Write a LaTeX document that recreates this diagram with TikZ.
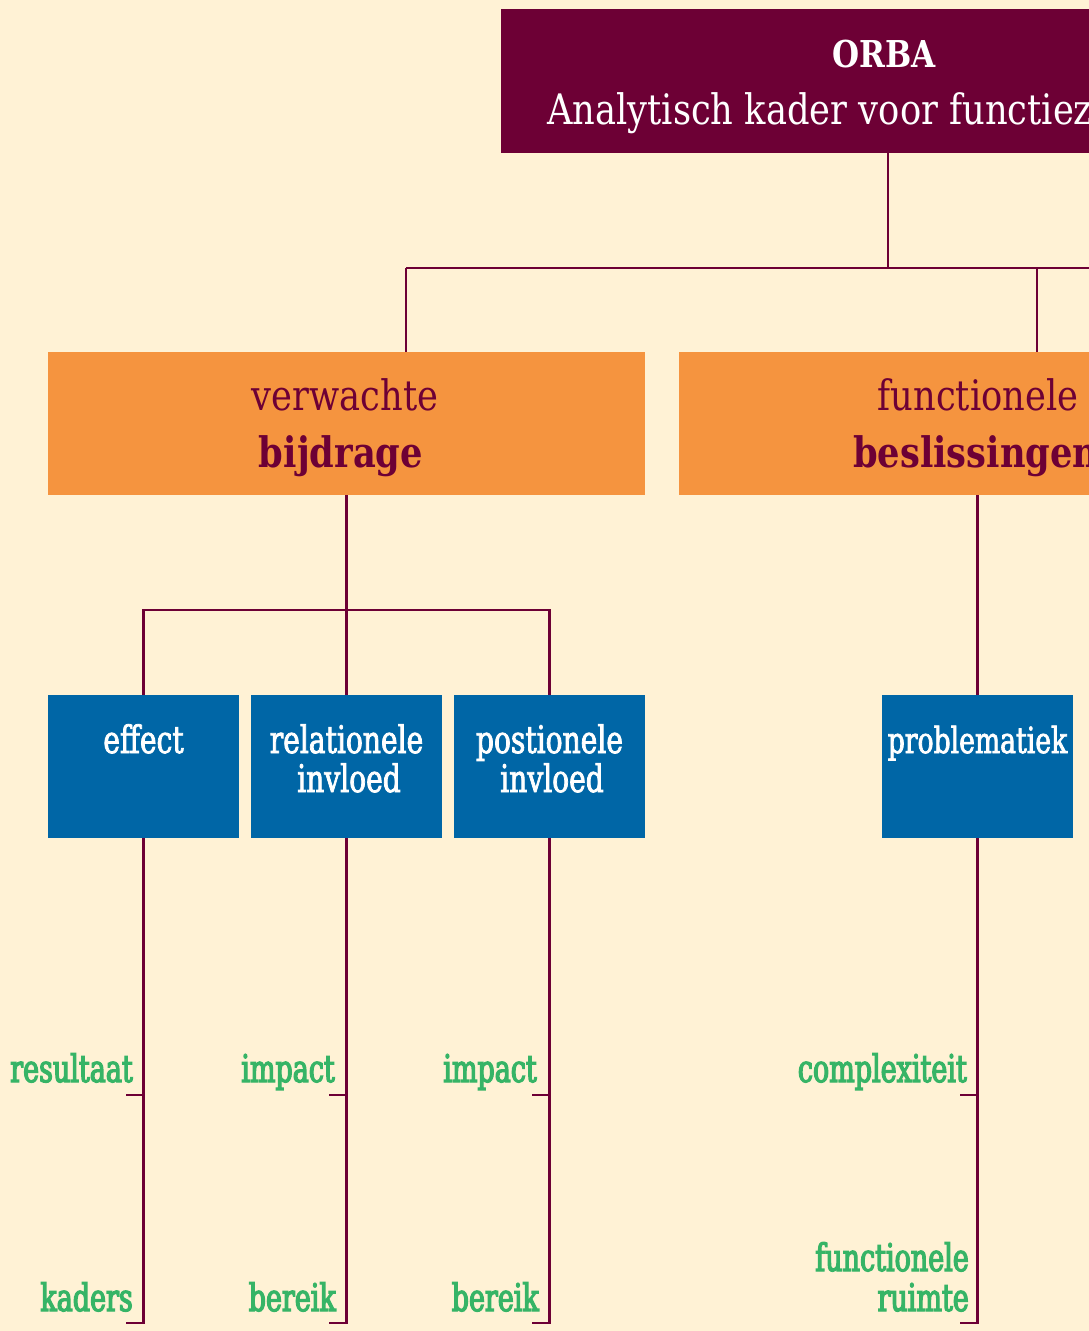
\documentclass[tikz,border=0pt]{standalone}
\usepackage{fontspec}
\setmainfont{DejaVu Serif}
\newfontfamily\hdfont[FakeStretch=0.84]{DejaVu Serif}
\newfontfamily\bxfont[FakeStretch=0.74,FakeBold=2]{DejaVu Serif}
\newfontfamily\lbfont[FakeStretch=0.71,FakeBold=3.2]{DejaVu Serif}

\definecolor{paper}{HTML}{FFF2D5}
\definecolor{maroon}{HTML}{6D0035}
\definecolor{orangebox}{HTML}{F5943F}
\definecolor{bluebox}{HTML}{0066A6}
\definecolor{leaf}{HTML}{36B466}

\tikzset{
  panel/.style={rectangle, inner sep=0pt, outer sep=0pt, minimum width=#1, minimum height=143pt},
  titlebox/.style={panel=766pt, fill=maroon, minimum height=144pt},
  groupbox/.style={panel=597pt, fill=orangebox},
  itembox/.style={panel=191pt, fill=bluebox},
  link/.style={draw=maroon, line width=2.2pt},
  titletext/.style={text=white, inner sep=0pt, font=\hdfont\fontsize{42}{42}\selectfont},
  grouptext/.style={text=maroon, inner sep=0pt, font=\hdfont\fontsize{42}{42}\selectfont},
  itemtext/.style={text=white, inner sep=0pt, font=\bxfont\fontsize{38}{38}\selectfont},
  leaftext/.style={text=leaf, inner sep=0pt, anchor=base east, font=\lbfont\fontsize{38}{38}\selectfont},
}

\begin{document}
\begin{tikzpicture}[x=1pt, y=-1pt]
\useasboundingbox (0,0) rectangle (1089,1331);
\clip (0,0) rectangle (1089,1331);
\fill[paper] (0,0) rectangle (1089,1331);

% top level
\node[titlebox] (orba) at (884,81) {};
\node[titletext, anchor=base, font=\hdfont\bfseries\fontsize{37}{37}\selectfont] (orbaA) at (884,67) {ORBA};
\node[titletext, anchor=base west] (orbaB) at (547,124) {Analytisch kader voor functiezwaarte};

% second level
\node[groupbox] (bijdrage) at (346.5,423.5) {};
\node[grouptext, anchor=base] (bijdrageA) at (345,410) {verwachte};
\node[grouptext, anchor=base, font=\hdfont\bfseries\fontsize{42}{42}\selectfont] (bijdrageB) at (341,467) {bijdrage};

\node[groupbox] (beslis) at (977.5,423.5) {};
\node[grouptext, anchor=base] (beslisA) at (978,410) {functionele};
\node[grouptext, anchor=base west, font=\hdfont\bfseries\fontsize{42}{42}\selectfont] (beslisB) at (853,467) {beslissingen};

% third level
\node[itembox] (effect) at (143.5,766.5) {};
\node[itemtext, anchor=base] at (143.5,753) {effect};
\node[itembox] (relinv) at (346.5,766.5) {};
\node[itemtext, anchor=base] at (346.5,753) {relationele};
\node[itemtext, anchor=base] at (349,792) {invloed};
\node[itembox] (posinv) at (549.5,766.5) {};
\node[itemtext, anchor=base] at (549.5,753) {postionele};
\node[itemtext, anchor=base] at (552,792) {invloed};
\node[itembox] (probl) at (977.5,766.5) {};
\node[itemtext, anchor=base, font=\bxfont\fontsize{36}{36}\selectfont] at (977.5,753) {problematiek};

% connector joints
\coordinate (hub) at (888,268);
\coordinate (dropA) at (406,268);
\coordinate (dropB) at (1037,268);
\coordinate (busend) at (1100,268);
\coordinate (fork) at (346.5,610);
\coordinate (tick) at (0,1095);
\coordinate (foot) at (0,1323);

\draw[link] (orba.south -| hub) -- (hub);
\draw[link] (dropA) -- (busend);
\draw[link] (dropA) -- (bijdrage.north -| dropA);
\draw[link] (dropB) -- (beslis.north -| dropB);

\draw[link] (bijdrage.south) -- (relinv.north);
\draw[link] (effect.north) -- (effect.north |- fork) -- (posinv.north |- fork) -- (posinv.north);
\draw[link] (beslis.south) -- (probl.north);

% leaf brackets
\foreach \b in {effect, relinv, posinv, probl} {
  \draw[link] (\b.south) -- (\b.south |- foot) -- ++(-18,0);
  \draw[link] (\b.south |- tick) -- ++(-18,0);
}

% leaf labels
\node[leaftext] (l1) at (133,1082) {resultaat};
\node[leaftext] (l2) at (133,1311) {kaders};
\node[leaftext] (l3) at (335,1082) {impact};
\node[leaftext] (l4) at (336,1311) {bereik};
\node[leaftext] (l5) at (537,1082) {impact};
\node[leaftext] (l6) at (539,1311) {bereik};
\node[leaftext] (l7) at (967,1082) {complexiteit};
\node[leaftext] (l8) at (969,1271) {functionele};
\node[leaftext] (l9) at (969,1311) {ruimte};
\end{tikzpicture}
\end{document}
